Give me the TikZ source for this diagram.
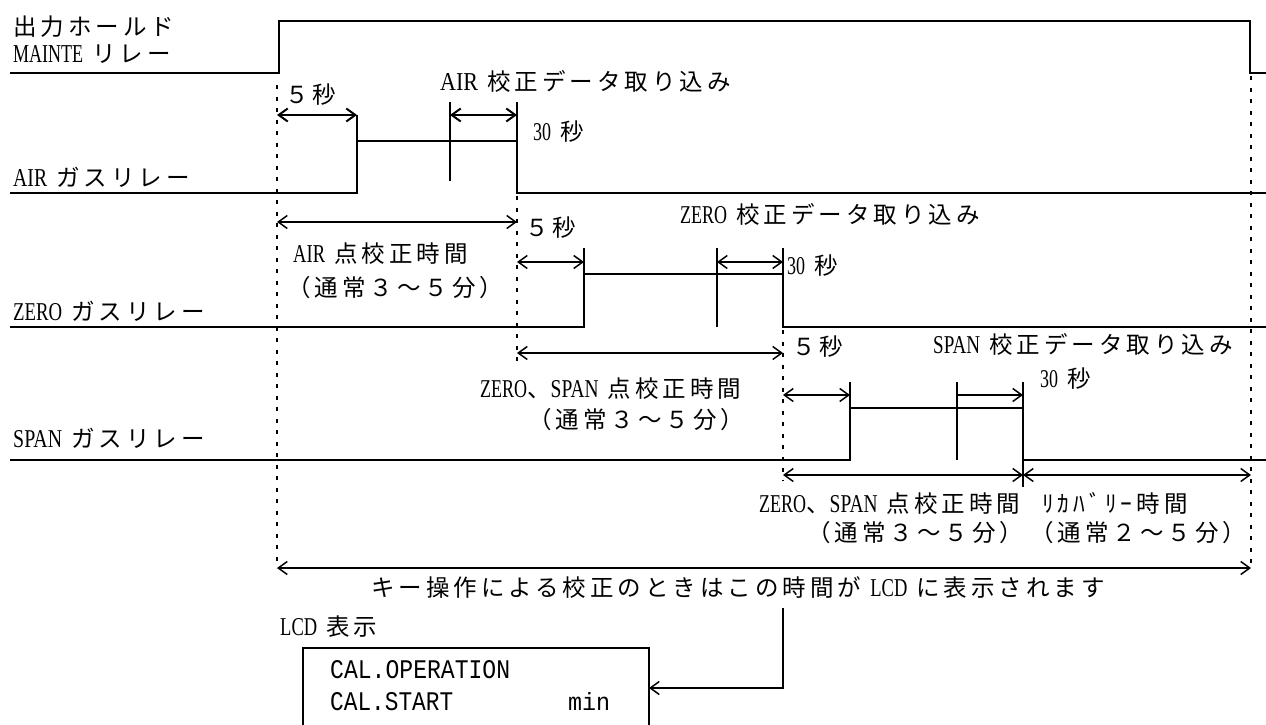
\documentclass[tikz,border=0pt]{standalone}
\usepackage{fontspec}
\usepackage{graphicx}
\newfontfamily\latfont{Liberation Serif}
\newfontfamily\jpfont{Noto Sans CJK JP}[LetterSpace=17]
\newfontfamily\lcdfont{Liberation Mono}
\usetikzlibrary{arrows.meta}
\newcommand\J[1]{{\fontsize{23.5}{28}\jpfont #1}}
% Latin word resized to a given width (pt) and a cap height of 17pt
\newcommand\E[2]{\resizebox{#1pt}{17pt}{\fontsize{25}{30}\latfont #2}}
\newcommand\M[2]{\resizebox{#1pt}{18pt}{\fontsize{25}{30}\lcdfont #2}}
\newcommand\gap{\hspace{9pt}}
\tikzset{
  >={Straight Barb[length=9pt,width=13pt]},
  signal/.style={line width=2pt},
  tick/.style={line width=2pt},
  arr/.style={line width=1.5pt,<->},
  rarr/.style={line width=1.5pt,->},
  dotv/.style={line width=2pt,dash pattern=on 4pt off 7.5pt},
  lbl/.style={anchor=base west,inner sep=0pt,font=\fontsize{25}{30}\latfont},
}
\begin{document}
\begin{tikzpicture}[x=1pt,y=-1pt]
\useasboundingbox (0,0) rectangle (1266,725);

% ---------- dotted guide lines
\draw[dotv] (277,85) -- (277,568);
\draw[dotv] (1251,76) -- (1251,568);
\draw[dotv] (517,196) -- (517,368);
\draw[dotv] (783,330) -- (783,480);

% ---------- MAINTE relay
\draw[signal] (10,73) -- (279,73) -- (279,21) -- (1250,21) -- (1250,73) -- (1266,73);
\node[lbl] (t1) at (13,36) {\J{出力ホールド}};
\node[lbl] (t2) at (13,63) {\E{70}{MAINTE}\gap\J{リレー}};

% ---------- AIR relay
\draw[signal] (10,193) -- (357,193) -- (357,141) -- (517,141) -- (517,193) -- (1266,193);
\draw[tick] (357,115) -- (357,141);
\draw[tick] (517,102) -- (517,141);
\draw[tick] (450,102) -- (450,181);
\coordinate (a0) at (277,115); \coordinate (a1) at (357,115);
\coordinate (a2) at (450,115); \coordinate (a3) at (517,115);
\draw[arr,line width=2pt] (a0) -- (a1);
\draw[arr,line width=2pt] (a2) -- (a3);
\node[lbl] (t3) at (285,103) {\J{５秒}};
\node[lbl] (t4) at (440,90) {\E{38}{AIR}\gap\J{校正データ取り込み}};
\node[lbl] (t5) at (533,140) {\E{18}{30}\gap\J{秒}};
\node[lbl] (t6) at (13,186) {\E{34}{AIR}\gap\J{ガスリレー}};

% ---------- AIR calibration time
\coordinate (b0) at (277,222); \coordinate (b1) at (517,222);
\draw[arr] (b0) -- (b1);
\node[lbl] (t7) at (293,262) {\E{32}{AIR}\gap\J{点校正時間}};
\node[lbl] (t8) at (287,296) {\J{（通常３～５分）}};

% ---------- ZERO relay
\draw[signal] (10,327) -- (584,327) -- (584,274) -- (783,274) -- (783,327) -- (1266,327);
\draw[tick] (584,248) -- (584,274);
\draw[tick] (783,248) -- (783,274);
\draw[tick] (717,248) -- (717,327);
\coordinate (z0) at (517,262); \coordinate (z1) at (584,262);
\coordinate (z2) at (717,262); \coordinate (z3) at (783,262);
\draw[arr] (z0) -- (z1);
\draw[arr] (z2) -- (z3);
\node[lbl] (t9) at (525,236) {\J{５秒}};
\node[lbl] (t10) at (680,223) {\E{47}{ZERO}\gap\J{校正データ取り込み}};
\node[lbl] (t11) at (787,274) {\E{18}{30}\gap\J{秒}};
\node[lbl] (t12) at (13,320) {\E{49}{ZERO}\gap\J{ガスリレー}};

% ---------- ZERO/SPAN calibration time (middle)
\coordinate (c0) at (517,353); \coordinate (c1) at (783,353);
\draw[arr] (c0) -- (c1);
\node[lbl] (t13) at (480,397) {\E{47}{ZERO}\J{、}\E{48}{SPAN}\gap\J{点校正時間}};
\node[lbl] (t14) at (528,428) {\J{（通常３～５分）}};

% ---------- SPAN relay
\draw[signal] (10,460) -- (850,460) -- (850,408) -- (1023,408) -- (1023,460) -- (1266,460);
\draw[tick] (850,382) -- (850,408);
\draw[tick] (1023,382) -- (1023,408);
\draw[tick] (1023,460) -- (1023,487);
\draw[tick] (957,382) -- (957,460);
\coordinate (s0) at (783,395); \coordinate (s1) at (850,395);
\coordinate (s2) at (957,395); \coordinate (s3) at (1023,395);
\draw[arr] (s0) -- (s1);
\draw[rarr] (s2) -- (s3);
\node[lbl] (t15) at (792,355) {\J{５秒}};
\node[lbl] (t16) at (933,353) {\E{47}{SPAN}\gap\J{校正データ取り込み}};
\node[lbl] (t17) at (1040,387) {\E{18}{30}\gap\J{秒}};
\node[lbl] (t18) at (13,447) {\E{49}{SPAN}\gap\J{ガスリレー}};

% ---------- bottom time spans
\coordinate (d0) at (783,475); \coordinate (d1) at (1023,475); \coordinate (d2) at (1251,475);
\draw[arr] (d0) -- (d1);
\draw[arr] (d1) -- (d2);
\node[lbl] (t19) at (759,512) {\E{47}{ZERO}\J{、}\E{48}{SPAN}\gap\J{点校正時間}};
\node[lbl] (t20) at (807,541) {\J{（通常３～５分）}};
\node[lbl] (t21) at (1042,512) {\J{ﾘｶﾊﾞﾘｰ時間}};
\node[lbl] (t22) at (1030,541) {\J{（通常２～５分）}};

% ---------- total time
\coordinate (e0) at (277,568); \coordinate (e1) at (1251,568);
\draw[arr] (e0) -- (e1);
\node[lbl] (t23) at (371,596) {\J{キー操作による校正のときはこの時間が}\gap\E{37}{LCD}\gap\J{に表示されます}};

% ---------- LCD
\node[lbl] (t24) at (280,635) {\E{37}{LCD}\gap\J{表示}};
\draw[line width=1.5pt] (303,726) -- (303,648) -- (649,648) -- (649,726);
\coordinate (lcdin) at (649,688);
\coordinate (f0) at (783,608); \coordinate (f1) at (783,688);
\draw[rarr] (f0) -- (f1) -- (lcdin);
\node[lbl] (t25) at (330,678) {\M{180}{CAL.OPERATION}};
\node[lbl] (t26) at (330,710) {\M{123}{CAL.START}};
\node[lbl] (t27) at (568,710) {\M{42}{min}};
\end{tikzpicture}
\end{document}
